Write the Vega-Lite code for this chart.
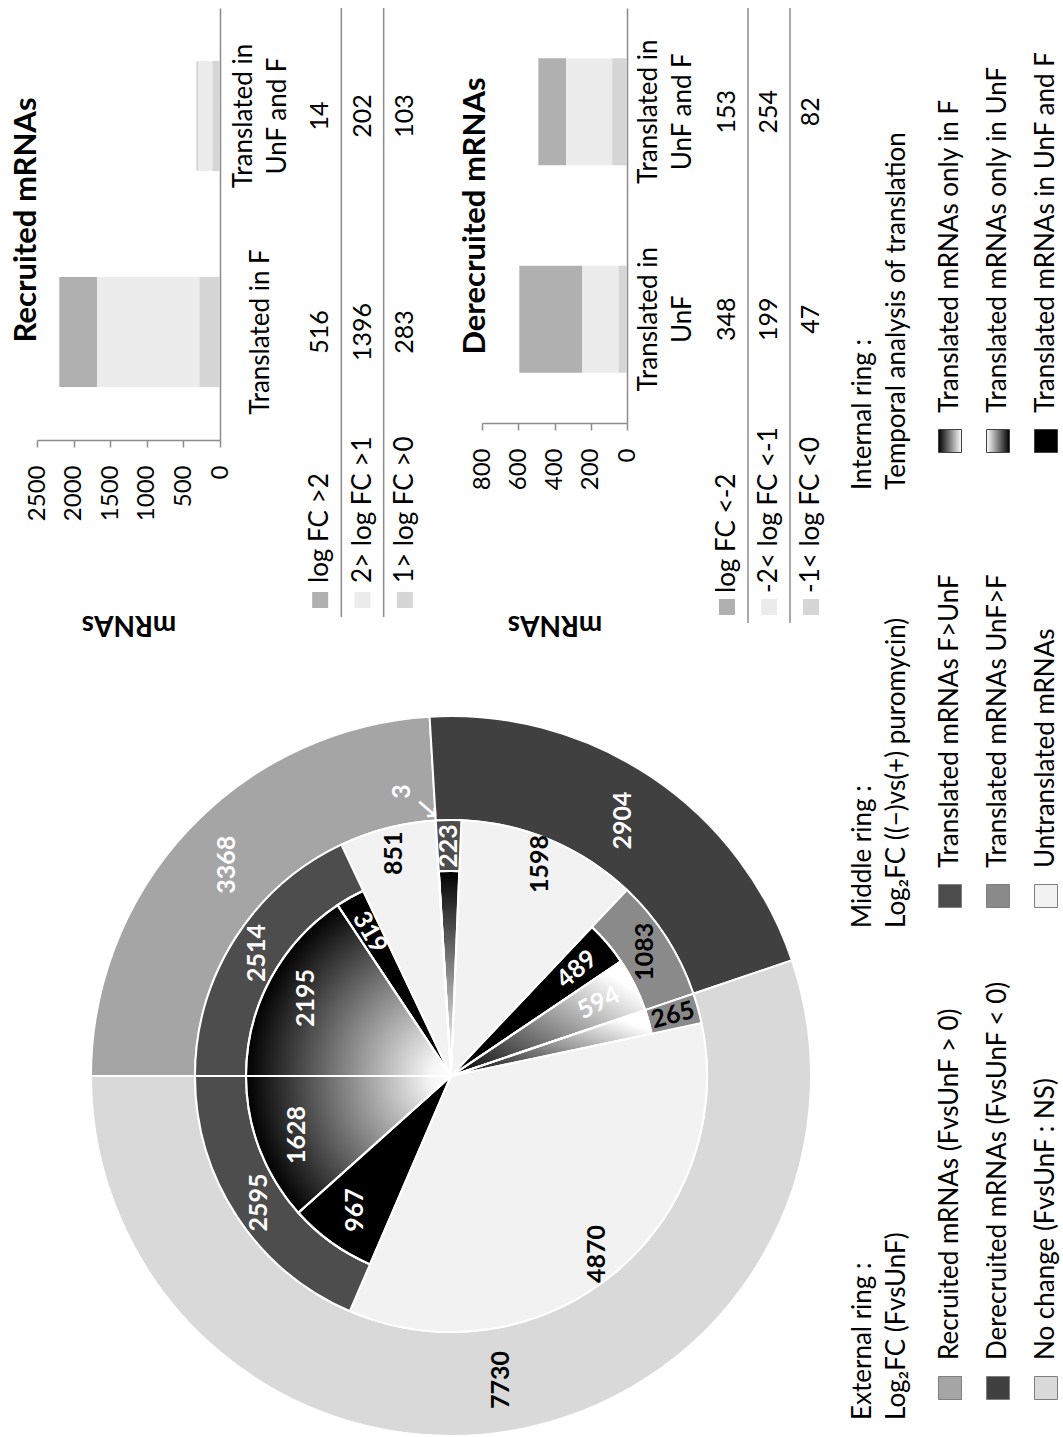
{
"$schema": "https://vega.github.io/schema/vega-lite/v6.json",
"width": 1063,
"height": 1437,
"padding": 0,
"autosize": {"type": "none"},
"background": "#ffffff",
"config": {
  "view": {"stroke": null},
  "font": "Lato",
  "text": {"font": "Lato", "color": "#000000"},
  "axis": {"grid": false, "labelFont": "Lato", "titleFont": "Lato"}
},
"datasets": {
  "rec": [
    {"cat": "Translated in F", "level": "log FC >2", "n": 516, "ord": 3},
    {"cat": "Translated in F", "level": "2> log FC >1", "n": 1396, "ord": 2},
    {"cat": "Translated in F", "level": "1> log FC >0", "n": 283, "ord": 1},
    {"cat": "Translated in UnF and F", "level": "log FC >2", "n": 14, "ord": 3},
    {"cat": "Translated in UnF and F", "level": "2> log FC >1", "n": 202, "ord": 2},
    {"cat": "Translated in UnF and F", "level": "1> log FC >0", "n": 103, "ord": 1}
  ],
  "recRows": [{"level": "log FC >2"}, {"level": "2> log FC >1"}, {"level": "1> log FC >0"}],
  "der": [
    {"cat": "Translated in UnF", "level": "log FC <-2", "n": 348, "ord": 3},
    {"cat": "Translated in UnF", "level": "-2< log FC <-1", "n": 199, "ord": 2},
    {"cat": "Translated in UnF", "level": "-1< log FC <0", "n": 47, "ord": 1},
    {"cat": "Translated in UnF and F", "level": "log FC <-2", "n": 153, "ord": 3},
    {"cat": "Translated in UnF and F", "level": "-2< log FC <-1", "n": 254, "ord": 2},
    {"cat": "Translated in UnF and F", "level": "-1< log FC <0", "n": 82, "ord": 1}
  ],
  "derRows": [{"level": "log FC <-2"}, {"level": "-2< log FC <-1"}, {"level": "-1< log FC <0"}],
  "outer": [
    {"grp": "Recruited", "n": 3368, "ord": 1},
    {"grp": "Derecruited", "n": 2904, "ord": 2},
    {"grp": "No change", "n": 7730, "ord": 3}
  ],
  "middle": [
    {"grp": "Recruited", "kind": "FgtU", "n": 2514, "ord": 1},
    {"grp": "Recruited", "kind": "untr", "n": 851, "ord": 2},
    {"grp": "Recruited", "kind": "UgtF", "n": 3, "ord": 3},
    {"grp": "Derecruited", "kind": "FgtU", "n": 223, "ord": 4},
    {"grp": "Derecruited", "kind": "untr", "n": 1598, "ord": 5},
    {"grp": "Derecruited", "kind": "UgtF", "n": 1083, "ord": 6},
    {"grp": "No change", "kind": "UgtF", "n": 265, "ord": 7},
    {"grp": "No change", "kind": "untr", "n": 4870, "ord": 8},
    {"grp": "No change", "kind": "FgtU", "n": 2595, "ord": 9}
  ],
  "inner": [
    {"kind": "onlyF", "n": 2195, "ord": 1},
    {"kind": "both", "n": 319, "ord": 2},
    {"kind": "untr", "n": 851, "ord": 3},
    {"kind": "onlyUnF", "n": 3, "ord": 4},
    {"kind": "onlyF", "n": 223, "ord": 5},
    {"kind": "untr", "n": 1598, "ord": 6},
    {"kind": "both", "n": 489, "ord": 7},
    {"kind": "onlyUnF", "n": 594, "ord": 8},
    {"kind": "onlyUnF", "n": 265, "ord": 9},
    {"kind": "untr", "n": 4870, "ord": 10},
    {"kind": "both", "n": 967, "ord": 11},
    {"kind": "onlyF", "n": 1628, "ord": 12}
  ],
  "legTitles": [
    {"block": "Internal", "line": 1, "t": "Internal ring :"},
    {"block": "Internal", "line": 2, "t": "Temporal analysis of translation"},
    {"block": "Middle", "line": 1, "t": "Middle ring :"},
    {"block": "Middle", "line": 2, "t": "Log₂FC ((−)vs(+) puromycin)"},
    {"block": "External", "line": 1, "t": "External ring :"},
    {"block": "External", "line": 2, "t": "Log₂FC (FvsUnF)"}
  ],
  "legInt": [
    {"i": 1, "key": "onlyF", "label": "Translated mRNAs only in F"},
    {"i": 2, "key": "onlyUnF", "label": "Translated mRNAs only in UnF"},
    {"i": 3, "key": "both", "label": "Translated mRNAs in UnF and F"}
  ],
  "legMid": [
    {"i": 1, "key": "FgtU", "label": "Translated mRNAs F>UnF"},
    {"i": 2, "key": "UgtF", "label": "Translated mRNAs UnF>F"},
    {"i": 3, "key": "untr", "label": "Untranslated mRNAs"}
  ],
  "legExt": [
    {"i": 1, "key": "Recruited", "label": "Recruited mRNAs (FvsUnF > 0)"},
    {"i": 2, "key": "Derecruited", "label": "Derecruited mRNAs (FvsUnF < 0)"},
    {"i": 3, "key": "No change", "label": "No change (FvsUnF : NS)"}
  ]
},
"layer": [
  {
    "data": {"name": "rec"},
    "encoding": {
      "y": {
        "field": "cat", "type": "nominal",
        "scale": {"type": "band", "domain": ["Translated in F", "Translated in UnF and F"], "range": [440, 8], "paddingInner": 0.49, "paddingOuter": 0.245},
        "axis": {"orient": "right", "offset": -843, "title": null, "ticks": false, "domain": true, "domainColor": "#8c8c8c", "domainWidth": 1.5, "labelAngle": 270, "labelAlign": "center", "labelBaseline": "middle", "labelPadding": {"condition": {"test": "datum.value === 'Translated in F'", "value": 40}, "value": 23}, "labelFontSize": 26, "labelColor": "#000000", "labelLimit": 0, "labelLineHeight": 34, "labelOverlap": false, "labelExpr": "length(datum.label) > 15 ? ['Translated in', substring(datum.label, 14)] : datum.label"}
      }
    },
    "layer": [
      {
        "mark": {"type": "bar"},
        "encoding": {
          "x": {
            "field": "n", "type": "quantitative", "stack": "zero",
            "scale": {"domain": [0, 2500], "range": [220, 37], "nice": false},
            "axis": {"orient": "bottom", "offset": -997, "values": [0, 500, 1000, 1500, 2000, 2500], "format": "d", "domainColor": "#8c8c8c", "domainWidth": 1.5, "tickColor": "#8c8c8c", "tickWidth": 1.5, "tickSize": 7, "labelAngle": 270, "labelAlign": "right", "labelBaseline": "middle", "labelPadding": 18, "labelFontSize": 24, "labelColor": "#000000", "labelFlush": false, "labelOverlap": false, "title": "mRNAs", "titleAngle": 180, "titleFontSize": 28, "titleFontWeight": "bold", "titleColor": "#000000", "titleBaseline": "middle", "titleAlign": "center", "titleY": 183}
          },
          "color": {"field": "level", "type": "nominal", "scale": {"domain": ["log FC >2", "2> log FC >1", "1> log FC >0"], "range": ["#b0b0b0", "#ececec", "#d6d6d6"]}, "legend": null},
          "order": {"field": "ord", "type": "quantitative"}
        }
      },
      {
        "mark": {"type": "text", "angle": 270, "fontSize": 25, "align": "center", "baseline": "middle"},
        "encoding": {
          "x": {"field": "level", "type": "nominal", "bandPosition": 0.5, "scale": {"type": "band", "domain": ["log FC >2", "2> log FC >1", "1> log FC >0"], "range": [299, 426], "paddingInner": 0, "paddingOuter": 0}, "axis": null},
          "text": {"field": "n", "type": "quantitative", "format": "d"}
        }
      }
    ],
    "resolve": {"scale": {"x": "independent"}, "axis": {"x": "independent"}}
  },
  {
    "data": {"name": "recRows"},
    "layer": [
      {
        "mark": {"type": "rule", "color": "#8c8c8c", "strokeWidth": 1.5},
        "encoding": {
          "x": {"field": "level", "type": "nominal", "bandPosition": 0, "scale": {"type": "band", "domain": ["log FC >2", "2> log FC >1", "1> log FC >0"], "range": [299, 426], "paddingInner": 0, "paddingOuter": 0}, "axis": null},
          "y": {"value": 8}, "y2": {"value": 617},
          "opacity": {"condition": {"test": "datum.level === 'log FC >2'", "value": 0}, "value": 1}
        }
      },
      {
        "mark": {"type": "text", "angle": 270, "align": "left", "baseline": "middle", "fontSize": 26},
        "encoding": {
          "x": {"field": "level", "type": "nominal", "bandPosition": 0.5, "scale": {"type": "band", "domain": ["log FC >2", "2> log FC >1", "1> log FC >0"], "range": [299, 426], "paddingInner": 0, "paddingOuter": 0}, "axis": null},
          "y": {"value": 583},
          "text": {"field": "level", "type": "nominal"}
        }
      },
      {
        "mark": {"type": "square", "size": 256, "opacity": 1, "filled": true},
        "encoding": {
          "x": {"field": "level", "type": "nominal", "bandPosition": 0.5, "scale": {"type": "band", "domain": ["log FC >2", "2> log FC >1", "1> log FC >0"], "range": [299, 426], "paddingInner": 0, "paddingOuter": 0}, "axis": null},
          "y": {"value": 600},
          "color": {"field": "level", "type": "nominal", "scale": {"domain": ["log FC >2", "2> log FC >1", "1> log FC >0"], "range": ["#b0b0b0", "#ececec", "#d6d6d6"]}, "legend": null}
        }
      }
    ]
  },
  {
    "data": {"name": "der"},
    "encoding": {
      "y": {
        "field": "cat", "type": "nominal",
        "scale": {"type": "band", "domain": ["Translated in UnF", "Translated in UnF and F"], "range": [423, 8], "paddingInner": 0.485, "paddingOuter": 0.2425},
        "axis": {"orient": "right", "offset": -436, "title": null, "ticks": false, "domain": true, "domainColor": "#8c8c8c", "domainWidth": 1.5, "labelAngle": 270, "labelAlign": "center", "labelBaseline": "middle", "labelPadding": 21, "labelFontSize": 26, "labelColor": "#000000", "labelLimit": 0, "labelLineHeight": 34, "labelOverlap": false, "labelExpr": "length(datum.label) > 15 ? ['Translated in', substring(datum.label, 14)] : datum.label"}
      }
    },
    "layer": [
      {
        "mark": {"type": "bar"},
        "encoding": {
          "x": {
            "field": "n", "type": "quantitative", "stack": "zero",
            "scale": {"domain": [0, 800], "range": [627, 482], "nice": false},
            "axis": {"orient": "bottom", "offset": -1014, "values": [0, 200, 400, 600, 800], "format": "d", "domainColor": "#8c8c8c", "domainWidth": 1.5, "tickColor": "#8c8c8c", "tickWidth": 1.5, "tickSize": 7, "labelAngle": 270, "labelAlign": "right", "labelBaseline": "middle", "labelPadding": 18, "labelFontSize": 24, "labelColor": "#000000", "labelFlush": false, "labelOverlap": false, "title": "mRNAs", "titleAngle": 180, "titleFontSize": 28, "titleFontWeight": "bold", "titleColor": "#000000", "titleBaseline": "middle", "titleAlign": "center", "titleY": 200}
          },
          "color": {"field": "level", "type": "nominal", "scale": {"domain": ["log FC <-2", "-2< log FC <-1", "-1< log FC <0"], "range": ["#b0b0b0", "#ececec", "#d6d6d6"]}, "legend": null},
          "order": {"field": "ord", "type": "quantitative"}
        }
      },
      {
        "mark": {"type": "text", "angle": 270, "fontSize": 25, "align": "center", "baseline": "middle"},
        "encoding": {
          "x": {"field": "level", "type": "nominal", "bandPosition": 0.5, "scale": {"type": "band", "domain": ["log FC <-2", "-2< log FC <-1", "-1< log FC <0"], "range": [706, 832], "paddingInner": 0, "paddingOuter": 0}, "axis": null},
          "text": {"field": "n", "type": "quantitative", "format": "d"}
        }
      }
    ],
    "resolve": {"scale": {"x": "independent"}, "axis": {"x": "independent"}}
  },
  {
    "data": {"name": "derRows"},
    "layer": [
      {
        "mark": {"type": "rule", "color": "#8c8c8c", "strokeWidth": 1.5},
        "encoding": {
          "x": {"field": "level", "type": "nominal", "bandPosition": 0, "scale": {"type": "band", "domain": ["log FC <-2", "-2< log FC <-1", "-1< log FC <0"], "range": [706, 832], "paddingInner": 0, "paddingOuter": 0}, "axis": null},
          "y": {"value": 8}, "y2": {"value": 623},
          "opacity": {"condition": {"test": "datum.level === 'log FC <-2'", "value": 0}, "value": 1}
        }
      },
      {
        "mark": {"type": "text", "angle": 270, "align": "left", "baseline": "middle", "fontSize": 26},
        "encoding": {
          "x": {"field": "level", "type": "nominal", "bandPosition": 0.5, "scale": {"type": "band", "domain": ["log FC <-2", "-2< log FC <-1", "-1< log FC <0"], "range": [706, 832], "paddingInner": 0, "paddingOuter": 0}, "axis": null},
          "y": {"value": 593},
          "text": {"field": "level", "type": "nominal"}
        }
      },
      {
        "mark": {"type": "square", "size": 256, "opacity": 1, "filled": true},
        "encoding": {
          "x": {"field": "level", "type": "nominal", "bandPosition": 0.5, "scale": {"type": "band", "domain": ["log FC <-2", "-2< log FC <-1", "-1< log FC <0"], "range": [706, 832], "paddingInner": 0, "paddingOuter": 0}, "axis": null},
          "y": {"value": 607},
          "color": {"field": "level", "type": "nominal", "scale": {"domain": ["log FC <-2", "-2< log FC <-1", "-1< log FC <0"], "range": ["#b0b0b0", "#ececec", "#d6d6d6"]}, "legend": null}
        }
      }
    ]
  },
  {
    "data": {"values": [{"title": "Recruited mRNAs"}]},
    "mark": {"type": "text", "angle": 270, "fontSize": 31, "fontWeight": "bold", "align": "center", "baseline": "middle"},
    "encoding": {"x": {"value": 27}, "y": {"value": 220}, "text": {"field": "title", "type": "nominal"}}
  },
  {
    "data": {"values": [{"title": "Derecruited mRNAs"}]},
    "mark": {"type": "text", "angle": 270, "fontSize": 31, "fontWeight": "bold", "align": "center", "baseline": "middle"},
    "encoding": {"x": {"value": 476}, "y": {"value": 216}, "text": {"field": "title", "type": "nominal"}}
  },
  {
    "data": {"values": [{"part": "inner disk"}]},
    "mark": {"type": "arc", "innerRadius": 0, "outerRadius": 205, "theta": 0, "theta2": 6.2831853, "strokeWidth": 0,
      "fill": {"gradient": "radial", "x1": 0.5, "y1": 0.5, "r1": 0, "x2": 0.5, "y2": 0.5, "r2": 0.5, "stops": [{"offset": 0, "color": "#ffffff"}, {"offset": 0.1, "color": "#f6f6f6"}, {"offset": 1, "color": "#000000"}]}},
    "encoding": {"x": {"value": 451}, "y": {"value": 1076}}
  },
  {
    "encoding": {
      "x": {"value": 451},
      "y": {"value": 1076},
      "theta": {"field": "n", "type": "quantitative", "stack": true, "scale": {"domain": [0, 14002], "range": [4.71238898, 10.99557429]}},
      "order": {"field": "ord", "type": "quantitative"},
      "detail": {"field": "ord", "type": "quantitative"}
    },
    "layer": [
      {
        "data": {"name": "outer"},
        "mark": {"type": "arc", "innerRadius": 256, "outerRadius": 360, "stroke": "#ffffff", "strokeWidth": 2},
        "encoding": {"color": {"condition": [{"test": "datum.grp === 'Recruited'", "value": "#a5a5a5"}, {"test": "datum.grp === 'Derecruited'", "value": "#404040"}], "value": "#d9d9d9"}}
      },
      {
        "data": {"name": "middle"},
        "mark": {"type": "arc", "innerRadius": 0, "outerRadius": 256, "fill": "#f2f2f2", "stroke": "#ffffff", "strokeWidth": 2},
        "encoding": {"opacity": {"condition": {"test": "datum.kind !== 'untr'", "value": 0}, "value": 1}}
      },
      {
        "data": {"name": "middle"},
        "mark": {"type": "arc", "innerRadius": 205, "outerRadius": 256, "stroke": "#ffffff", "strokeWidth": 2},
        "encoding": {
          "color": {"condition": {"test": "datum.kind === 'FgtU'", "value": "#4d4d4d"}, "value": "#8a8a8a"},
          "opacity": {"condition": {"test": "datum.kind === 'untr'", "value": 0}, "value": 1}
        }
      },
      {
        "data": {"name": "inner"},
        "mark": {"type": "arc", "innerRadius": 0, "outerRadius": 205, "fill": "#000000", "stroke": "#ffffff", "strokeWidth": 2},
        "encoding": {"opacity": {"condition": {"test": "datum.kind !== 'both'", "value": 0}, "value": 1}}
      },
      {
        "data": {"name": "inner"},
        "mark": {"type": "arc", "innerRadius": 0, "outerRadius": 205, "stroke": "#ffffff", "strokeWidth": 2,
          "fill": {"gradient": "linear", "x1": 0, "y1": 1, "x2": 1, "y2": 0, "stops": [{"offset": 0, "color": "#000000"}, {"offset": 0.85, "color": "#ffffff"}, {"offset": 1, "color": "#ffffff"}]}},
        "encoding": {"opacity": {"condition": {"test": "datum.kind !== 'onlyUnF'", "value": 0}, "value": 1}}
      },
      {
        "data": {"name": "inner"},
        "mark": {"type": "arc", "innerRadius": 0, "outerRadius": 205, "fill": "#000000", "fillOpacity": 0, "stroke": "#ffffff", "strokeWidth": 2},
        "encoding": {"opacity": {"condition": {"test": "datum.kind === 'untr'", "value": 0}, "value": 1}}
      },
      {
        "data": {"name": "outer"},
        "mark": {"type": "text", "radius": 308, "fontSize": 25, "fontWeight": "bold", "align": "center", "baseline": "middle"},
        "encoding": {
          "text": {"field": "n", "type": "quantitative", "format": "d"},
          "angle": {"value": 270},
          "color": {"condition": {"test": "datum.grp === 'No change'", "value": "#000000"}, "value": "#ffffff"}
        }
      },
      {
        "data": {"name": "middle"},
        "mark": {"type": "text", "radius": 230, "fontSize": 25, "fontWeight": "bold", "align": "center", "baseline": "middle"},
        "encoding": {
          "text": {"field": "n", "type": "quantitative", "format": "d"},
          "angle": {"condition": {"test": "datum.n === 265", "value": 345}, "value": 270},
          "color": {"condition": {"test": "datum.kind === 'FgtU'", "value": "#ffffff"}, "value": "#000000"},
          "opacity": {"condition": {"test": "datum.n === 3", "value": 0}, "value": 1}
        }
      },
      {
        "data": {"name": "middle"},
        "mark": {"type": "text", "radius": 285, "dy": -32, "fontSize": 25, "fontWeight": "bold", "align": "center", "baseline": "middle"},
        "encoding": {
          "text": {"field": "n", "type": "quantitative", "format": "d"},
          "angle": {"value": 270},
          "color": {"value": "#ffffff"},
          "opacity": {"condition": {"test": "datum.n !== 3", "value": 0}, "value": 1}
        }
      },
      {
        "data": {"name": "middle"},
        "mark": {"type": "text", "radius": 267, "dx": -6, "dy": 5, "fontSize": 30, "font": "DejaVu Sans", "align": "center", "baseline": "middle"},
        "encoding": {
          "text": {"value": "→"},
          "angle": {"value": 41},
          "color": {"value": "#ffffff"},
          "opacity": {"condition": {"test": "datum.n !== 3", "value": 0}, "value": 1}
        }
      },
      {
        "data": {"name": "inner"},
        "mark": {"type": "text", "radius": 165, "fontSize": 25, "fontWeight": "bold", "align": "center", "baseline": "middle"},
        "encoding": {
          "text": {"field": "n", "type": "quantitative", "format": "d"},
          "angle": {"condition": [{"test": "datum.n === 319", "value": 60}, {"test": "datum.n === 489", "value": 320}, {"test": "datum.n === 594", "value": 334}], "value": 270},
          "color": {"value": "#ffffff"},
          "opacity": {"condition": {"test": "datum.kind === 'untr' || datum.n < 300", "value": 0}, "value": 1}
        }
      }
    ]
  },
  {
    "data": {"name": "legTitles"},
    "transform": [{"filter": "datum.block === 'Internal'"}],
    "mark": {"type": "text", "angle": 270, "align": "left", "baseline": "middle", "fontSize": 26},
    "encoding": {"x": {"field": "line", "type": "ordinal", "scale": {"type": "point", "domain": [1, 2], "range": [863, 897], "padding": 0}, "axis": null}, "y": {"value": 490}, "text": {"field": "t", "type": "nominal"}}
  },
  {
    "data": {"name": "legTitles"},
    "transform": [{"filter": "datum.block === 'Middle'"}],
    "mark": {"type": "text", "angle": 270, "align": "left", "baseline": "middle", "fontSize": 26},
    "encoding": {"x": {"field": "line", "type": "ordinal", "scale": {"type": "point", "domain": [1, 2], "range": [863, 897], "padding": 0}, "axis": null}, "y": {"value": 928}, "text": {"field": "t", "type": "nominal"}}
  },
  {
    "data": {"name": "legTitles"},
    "transform": [{"filter": "datum.block === 'External'"}],
    "mark": {"type": "text", "angle": 270, "align": "left", "baseline": "middle", "fontSize": 26},
    "encoding": {"x": {"field": "line", "type": "ordinal", "scale": {"type": "point", "domain": [1, 2], "range": [863, 897], "padding": 0}, "axis": null}, "y": {"value": 1420}, "text": {"field": "t", "type": "nominal"}}
  },
  {
    "data": {"name": "legInt"},
    "mark": {"type": "text", "angle": 270, "align": "left", "baseline": "middle", "fontSize": 26},
    "encoding": {"x": {"field": "i", "type": "ordinal", "scale": {"type": "point", "domain": [1, 2, 3], "range": [950, 1046], "padding": 0}, "axis": null}, "y": {"value": 413}, "text": {"field": "label", "type": "nominal"}}
  },
  {
    "data": {"name": "legInt"},
    "transform": [{"filter": "datum.key === 'onlyF'"}],
    "mark": {"type": "square", "size": 529, "opacity": 1, "filled": true, "stroke": "#404040", "strokeWidth": 1,
      "fill": {"gradient": "linear", "x1": 0, "y1": 0, "x2": 1, "y2": 0, "stops": [{"offset": 0, "color": "#000000"}, {"offset": 1, "color": "#ffffff"}]}},
    "encoding": {"x": {"field": "i", "type": "ordinal", "scale": {"type": "point", "domain": [1, 2, 3], "range": [950, 1046], "padding": 0}, "axis": null}, "y": {"value": 441}}
  },
  {
    "data": {"name": "legInt"},
    "transform": [{"filter": "datum.key === 'onlyUnF'"}],
    "mark": {"type": "square", "size": 529, "opacity": 1, "filled": true, "stroke": "#404040", "strokeWidth": 1,
      "fill": {"gradient": "linear", "x1": 0, "y1": 0, "x2": 1, "y2": 0, "stops": [{"offset": 0, "color": "#ffffff"}, {"offset": 1, "color": "#000000"}]}},
    "encoding": {"x": {"field": "i", "type": "ordinal", "scale": {"type": "point", "domain": [1, 2, 3], "range": [950, 1046], "padding": 0}, "axis": null}, "y": {"value": 441}}
  },
  {
    "data": {"name": "legInt"},
    "transform": [{"filter": "datum.key === 'both'"}],
    "mark": {"type": "square", "size": 529, "opacity": 1, "filled": true, "fill": "#000000", "stroke": "#404040", "strokeWidth": 1},
    "encoding": {"x": {"field": "i", "type": "ordinal", "scale": {"type": "point", "domain": [1, 2, 3], "range": [950, 1046], "padding": 0}, "axis": null}, "y": {"value": 441}}
  },
  {
    "data": {"name": "legMid"},
    "mark": {"type": "text", "angle": 270, "align": "left", "baseline": "middle", "fontSize": 26},
    "encoding": {"x": {"field": "i", "type": "ordinal", "scale": {"type": "point", "domain": [1, 2, 3], "range": [950, 1046], "padding": 0}, "axis": null}, "y": {"value": 868}, "text": {"field": "label", "type": "nominal"}}
  },
  {
    "data": {"name": "legMid"},
    "mark": {"type": "square", "size": 529, "opacity": 1, "filled": true, "stroke": "#7f7f7f", "strokeWidth": 1},
    "encoding": {
      "x": {"field": "i", "type": "ordinal", "scale": {"type": "point", "domain": [1, 2, 3], "range": [950, 1046], "padding": 0}, "axis": null},
      "y": {"value": 896},
      "color": {"condition": [{"test": "datum.key === 'FgtU'", "value": "#4d4d4d"}, {"test": "datum.key === 'UgtF'", "value": "#8a8a8a"}], "value": "#f2f2f2"}
    }
  },
  {
    "data": {"name": "legExt"},
    "mark": {"type": "text", "angle": 270, "align": "left", "baseline": "middle", "fontSize": 26},
    "encoding": {"x": {"field": "i", "type": "ordinal", "scale": {"type": "point", "domain": [1, 2, 3], "range": [950, 1046], "padding": 0}, "axis": null}, "y": {"value": 1360}, "text": {"field": "label", "type": "nominal"}}
  },
  {
    "data": {"name": "legExt"},
    "mark": {"type": "square", "size": 529, "opacity": 1, "filled": true, "stroke": "#7f7f7f", "strokeWidth": 1},
    "encoding": {
      "x": {"field": "i", "type": "ordinal", "scale": {"type": "point", "domain": [1, 2, 3], "range": [950, 1046], "padding": 0}, "axis": null},
      "y": {"value": 1388},
      "color": {"condition": [{"test": "datum.key === 'Recruited'", "value": "#a5a5a5"}, {"test": "datum.key === 'Derecruited'", "value": "#404040"}], "value": "#d9d9d9"}
    }
  }
],
"resolve": {"scale": {"x": "independent", "y": "independent", "color": "independent", "opacity": "independent", "theta": "independent"}, "axis": {"x": "independent", "y": "independent"}}
}
